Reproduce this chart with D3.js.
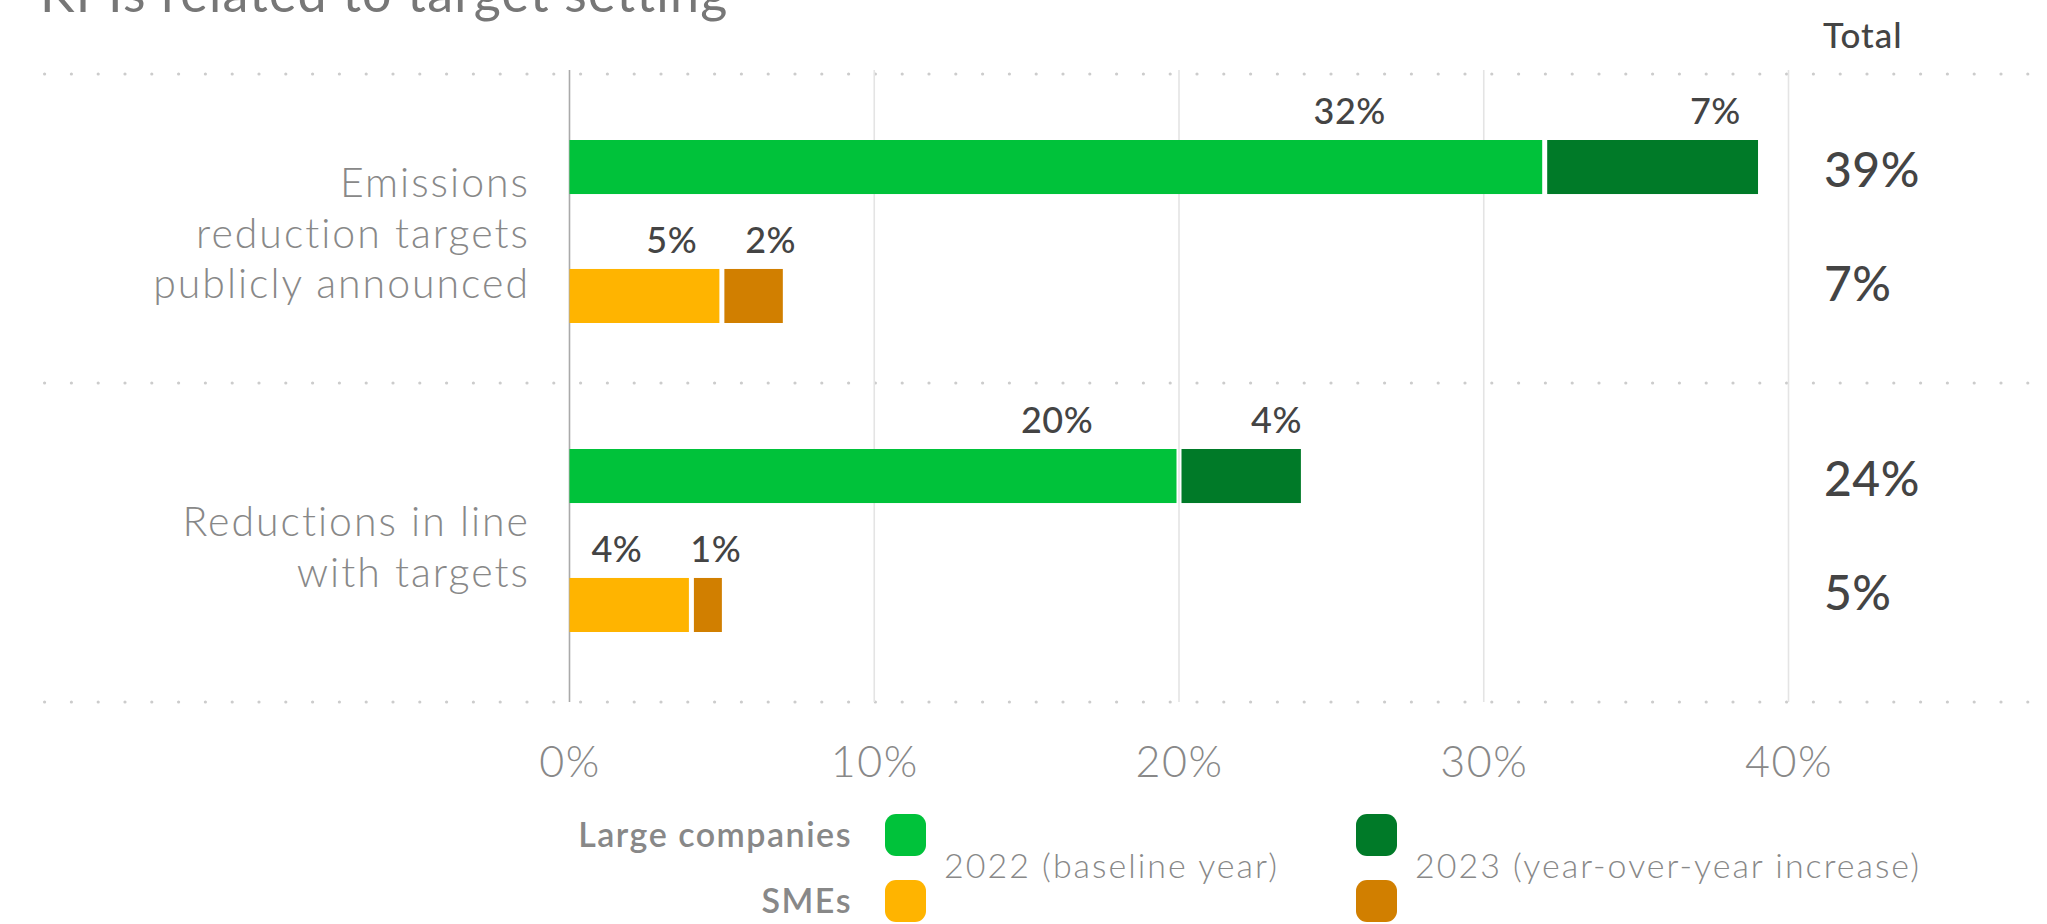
<!DOCTYPE html>
<html>
<head>
<meta charset="utf-8">
<script src="https://cdn.jsdelivr.net/npm/d3@7"></script>
<style>
  html, body { margin: 0; padding: 0; background: #fff; }
  svg { display: block; }
  text { font-family: Lato, "Noto Sans", sans-serif; }
</style>
</head>
<body>
<svg id="chart" width="2047" height="924"></svg>
<script>
// ---- data ----
const title = "KPIs related to target setting";
const categories = ["Emissions reduction targets publicly announced", "Reductions in line with targets"];
const categoryLines = [["Emissions", "reduction targets", "publicly announced"], ["Reductions in line", "with targets"]];
const companyTypes = ["Large companies", "SMEs"];
const baseline2022 = [[32, 5], [20, 4]];   // [category][company type]
const increase2023 = [[7, 2], [4, 1]];
const totals = [[39, 7], [24, 5]];
const xTicks = [0, 10, 20, 30, 40];
const legendSeries = ["2022 (baseline year)", "2023 (year-over-year increase)"];

// ---- layout ----
const W = 2047, H = 924;
const plotTop = 74, plotBottom = 702;
const svg = d3.select("#chart");

const colors = {
  "Large companies": ["#00c23a", "#007a28"],
  "SMEs": ["#ffb400", "#d17f00"]
};

const x = d3.scaleLinear().domain([0, 40]).range([569.5, 1788.5]);
const yGroup = d3.scaleBand().domain(categories).range([plotTop, 692]);
const yInner = d3.scaleBand().domain(companyTypes).range([66, 249]).paddingInner(0.581);
// the totals column sits a little tighter than the bars
const yTotal = d3.scalePoint().domain(companyTypes).range([95, 209]);

// title (runs off the top edge)
svg.append("text")
  .attr("x", 40).attr("y", 12)
  .attr("font-size", 52).attr("letter-spacing", 1.2).attr("fill", "#777")
  .text(title);

// dotted separators
const sepYs = categories.map(c => yGroup(c)).concat([plotBottom]);
svg.append("g").selectAll("line").data(sepYs).join("line")
  .attr("x1", 44.6).attr("x2", W + 10)
  .attr("y1", d => d).attr("y2", d => d)
  .attr("stroke", "#cccccc").attr("stroke-width", 3.2)
  .attr("stroke-linecap", "round")
  .attr("stroke-dasharray", "0 26.8");

// vertical gridlines
svg.append("g").selectAll("line").data(xTicks.filter(t => t > 0)).join("line")
  .attr("x1", d => x(d)).attr("x2", d => x(d))
  .attr("y1", plotTop - 4).attr("y2", plotBottom)
  .attr("stroke", "#e4e4e4").attr("stroke-width", 1.6);

// zero axis line
svg.append("line")
  .attr("x1", x(0)).attr("x2", x(0))
  .attr("y1", plotTop - 4).attr("y2", plotBottom)
  .attr("stroke", "#aaaaaa").attr("stroke-width", 1.6);

// x-axis tick labels via d3.axisBottom
const xAxis = svg.append("g")
  .attr("transform", `translate(0, ${plotBottom})`)
  .call(d3.axisBottom(x).tickValues(xTicks).tickFormat(d => d + "%").tickSize(0).tickPadding(0));
xAxis.select(".domain").remove();
xAxis.selectAll("text")
  .attr("y", 75).attr("dy", 0)
  .attr("font-family", "Lato, 'Noto Sans', sans-serif")
  .attr("font-size", 43).attr("letter-spacing", 1.5)
  .attr("font-weight", 300).attr("fill", "#888");

// category labels
categories.forEach((c, i) => {
  const lines = categoryLines[i];
  const cy = yGroup(c) + (yInner.range()[0] + yInner.range()[1]) / 2;
  const lh = 50.8;
  const first = cy + 16 - (lines.length - 1) / 2 * lh + (lines.length === 2 ? 5 : 0);
  const t = svg.append("text")
    .attr("text-anchor", "end")
    .attr("font-size", 41).attr("letter-spacing", 2)
    .attr("font-weight", 300).attr("fill", "#888");
  lines.forEach((ln, j) => {
    t.append("tspan").attr("x", 530).attr("y", first + j * lh).text(ln);
  });
});

// stacked bars
const barH = yInner.bandwidth();
const gap = 5;
const rows = [];
categories.forEach((c, i) => {
  companyTypes.forEach((ct, j) => {
    const segs = [baseline2022[i][j], increase2023[i][j]];
    let start = 0;
    segs.forEach((v, k) => {
      rows.push({ c, ct, k, start, end: start + v, v });
      start += v;
    });
  });
});

const bars = svg.append("g");
bars.selectAll("rect").data(rows).join("rect")
  .attr("x", d => x(d.start) + (d.k > 0 ? gap / 2 : 0))
  .attr("width", d => x(d.end) - x(d.start) - gap / 2)
  .attr("y", d => yGroup(d.c) + yInner(d.ct))
  .attr("height", barH)
  .attr("fill", d => colors[d.ct][d.k]);

// segment value labels, leaning toward each segment's end
const labels = bars.selectAll("text").data(rows).join("text")
  .attr("x", d => x(d.start + 0.8 * d.v))
  .attr("y", d => yGroup(d.c) + yInner(d.ct) - 16)
  .attr("text-anchor", "middle")
  .attr("font-size", 36).attr("letter-spacing", 0.5)
  .attr("font-weight", 500).attr("fill", "#444")
  .text(d => d.v + "%");

// push a label left when it would crowd the next label in its row
labels.each(function (d) { d.w = this.getComputedTextLength(); d.cx = x(d.start + 0.8 * d.v); });
const minGap = 48;
rows.forEach((d, idx) => {
  if (d.k === 0) {
    const next = rows[idx + 1];
    const maxRight = next.cx - next.w / 2 - minGap;
    if (d.cx + d.w / 2 > maxRight) d.cx = maxRight - d.w / 2;
  }
});
labels.attr("x", d => d.cx);

// totals column
svg.append("text")
  .attr("x", 1823).attr("y", 48)
  .attr("font-size", 35).attr("letter-spacing", 1)
  .attr("font-weight", 500).attr("fill", "#444")
  .text("Total");
categories.forEach((c, i) => {
  companyTypes.forEach((ct, j) => {
    svg.append("text")
      .attr("x", 1824)
      .attr("y", yGroup(c) + yTotal(ct) + 17.5)
      .attr("font-size", 48).attr("letter-spacing", 0.5)
      .attr("font-weight", 500).attr("fill", "#444")
      .text(totals[i][j] + "%");
  });
});

// legend
const legendRowY = [814, 880];
const legendColX = [885, 1356];
companyTypes.forEach((ct, j) => {
  svg.append("text")
    .attr("x", 852).attr("y", legendRowY[j] + 33)
    .attr("text-anchor", "end")
    .attr("font-size", 34).attr("letter-spacing", 1.5)
    .attr("font-weight", 600).attr("fill", "#888")
    .text(ct);
  [0, 1].forEach(k => {
    svg.append("rect")
      .attr("x", legendColX[k]).attr("y", legendRowY[j])
      .attr("width", 41).attr("height", 42).attr("rx", 11)
      .attr("fill", colors[ct][k]);
  });
});
legendSeries.forEach((s, k) => {
  svg.append("text")
    .attr("x", legendColX[k] + 59).attr("y", 878)
    .attr("font-size", 34).attr("letter-spacing", 2)
    .attr("font-weight", 300).attr("fill", "#888")
    .text(s);
});
</script>
</body>
</html>
